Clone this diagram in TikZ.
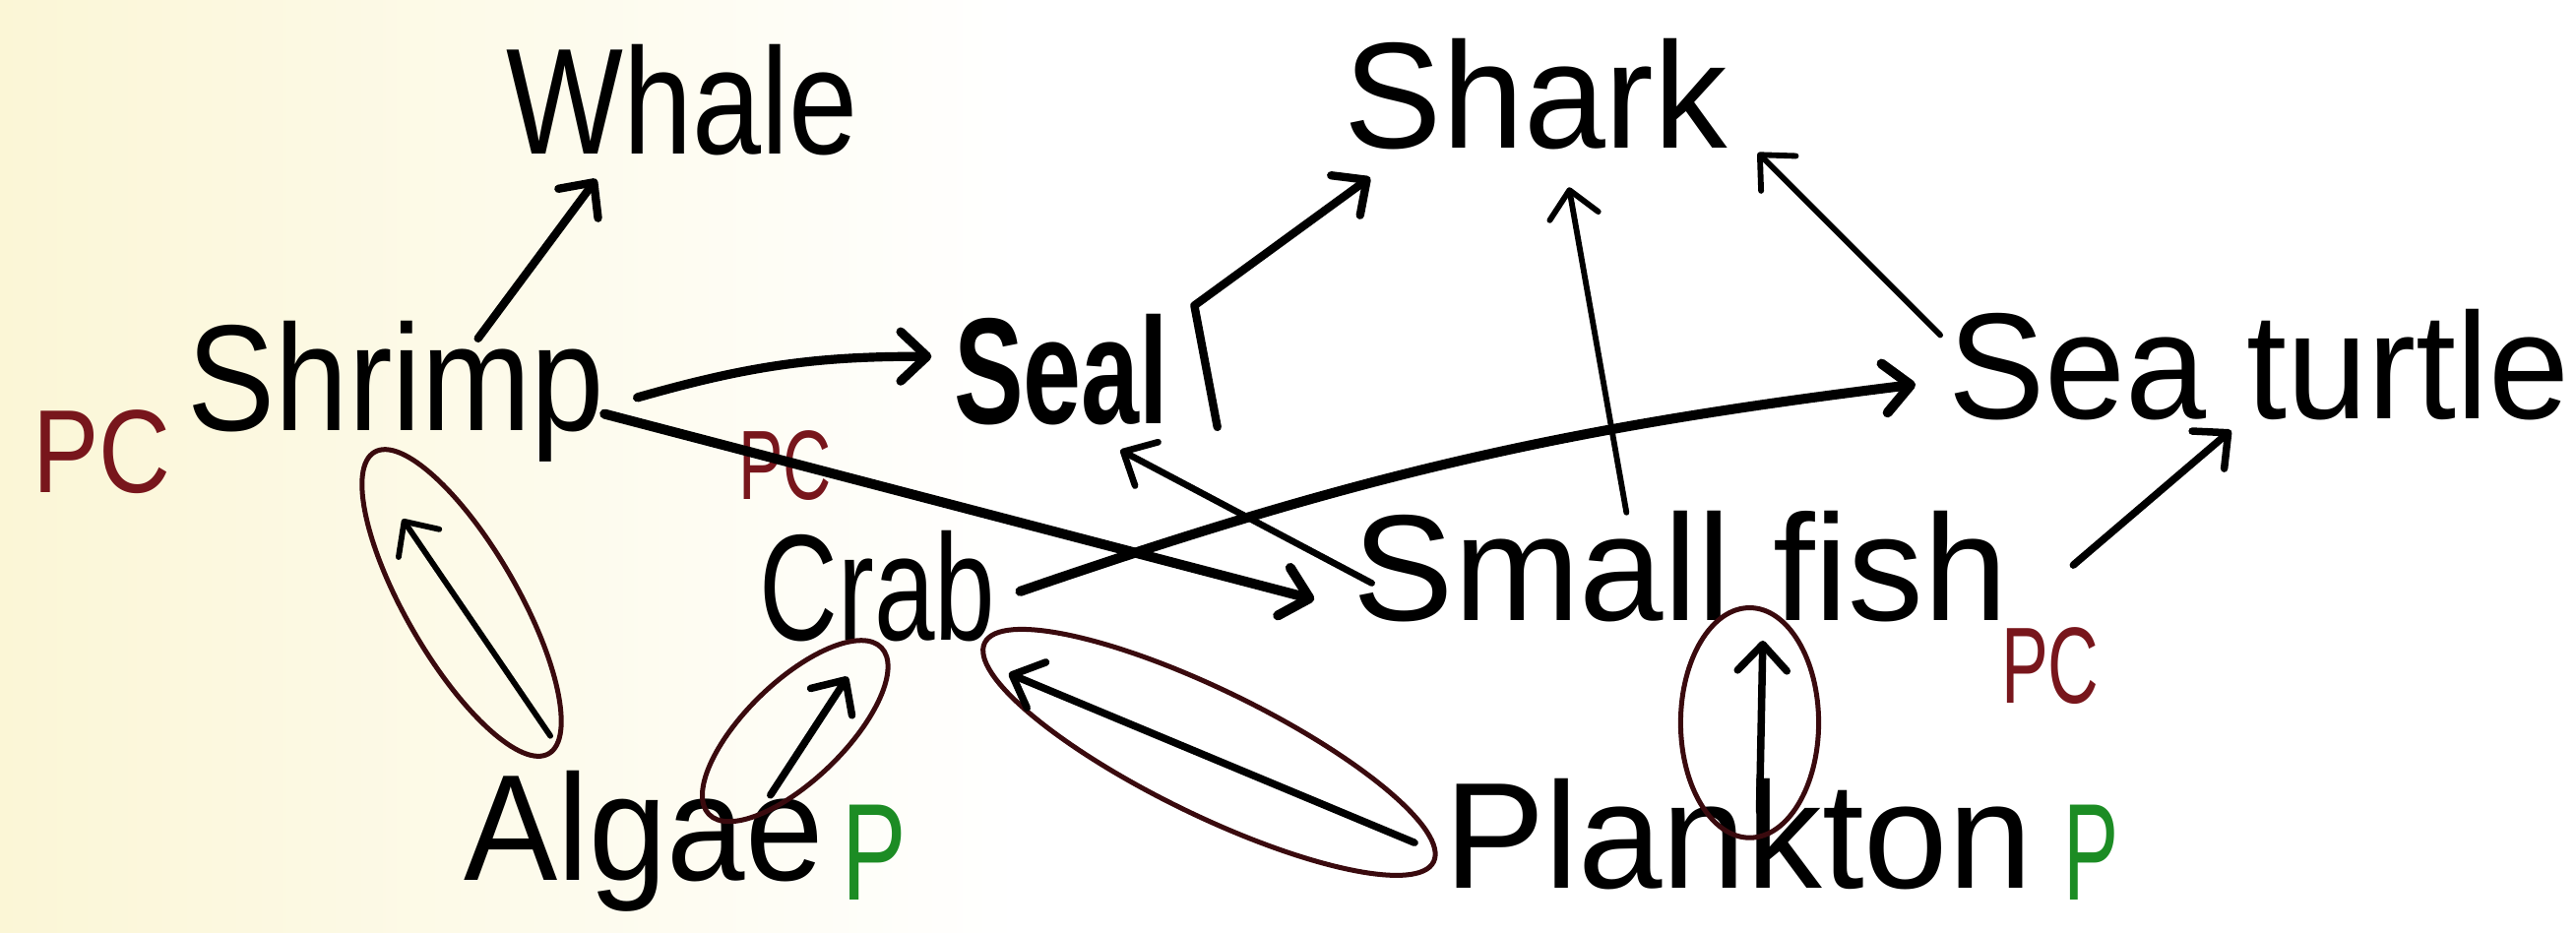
\documentclass[tikz,border=0pt]{standalone}
\usepackage{fontspec}
\setmainfont{Liberation Sans}
\usepackage{graphicx}
\usetikzlibrary{arrows.meta,calc}
\definecolor{cream}{RGB}{251,246,214}
\definecolor{pcred}{RGB}{120,22,28}
\definecolor{pgreen}{RGB}{28,140,36}
\definecolor{ellc}{RGB}{58,10,14}
\begin{document}
\begin{tikzpicture}[x=1pt,y=-1pt,
  lbl/.style={inner sep=0pt, anchor=base, font=\fontsize{92}{94}\selectfont},
  pcl/.style={inner sep=0pt, anchor=base, text=pcred, font=\fontsize{70}{72}\selectfont},
  pl/.style={inner sep=0pt, anchor=base, text=pgreen, font=\fontsize{84}{86}\selectfont},
  arr/.style={line width=5pt, line cap=round, line join=round, -{Straight Barb[length=16pt,width=30pt,round]}},
  ell/.style={draw=ellc, line width=3pt}]
\fill[white] (0,0) rectangle (1568,568);
\shade[left color=cream, right color=white] (0,0) rectangle (620,568);
\useasboundingbox (0,0) rectangle (1568,568);

% labels
\node[lbl] (whale) at (415,94) {\scalebox{0.82}[1]{Whale}};
\node[lbl] (shark) at (935,90) {\scalebox{0.97}[1]{Shark}};
\node[lbl] (shrimp) at (241,262) {\scalebox{0.87}[1]{Shrimp}};
\node[pcl, font=\fontsize{72}{74}\selectfont] (pcshrimp) at (62,300) {\scalebox{0.84}[1]{PC}};
\node[lbl, font=\fontsize{92}{94}\selectfont\bfseries] (seal) at (646,258) {\scalebox{0.69}[1]{Seal}};
\node[lbl] (turtle) at (1375,255) {\scalebox{0.96}[1]{Sea turtle}};
\node[pcl, font=\fontsize{60}{62}\selectfont] (pccrab) at (478,304) {\scalebox{0.68}[1]{PC}};
\node[lbl] (crab) at (534,390) {\scalebox{0.72}[1]{Crab}};
\node[lbl] (fish) at (1023,378) {Small fish};
\node[pcl, font=\fontsize{66}{68}\selectfont] (pcfish) at (1248,428) {\scalebox{0.65}[1]{PC}};
\node[lbl] (algae) at (392,536) {\scalebox{0.93}[1]{Algae}};
\node[pl] (palgae) at (532,548) {\scalebox{0.7}[1]{P}};
\node[lbl] (plankton) at (1058,541) {Plankton};
\node[pl] (pplankton) at (1273,548) {\scalebox{0.6}[1]{P}};

% ellipses round the producer links
\draw[ell, rotate around={-60:(281,367)}] (281,367) ellipse [x radius=106, y radius=34];
\draw[ell, rotate around={44:(484,445)}] (484,445) ellipse [x radius=73, y radius=30];
\draw[ell, rotate around={-26:(736,458)}] (736,458) ellipse [x radius=152, y radius=38];
\draw[ell] (1065,440) ellipse [x radius=42, y radius=70];

% feeding arrows
\draw[arr] ($(shrimp.base)+(50,-56)$) -- ($(whale.base)+(-52,15)$);
\draw[arr, line width=5.5pt] ($(shrimp.base)+(147,-20)$) to[bend left=8] ($(seal.base)+(-79,-41)$);
\draw[arr, line width=6pt] ($(shrimp.base)+(127,-10)$) -- ($(fish.base)+(-223,-13)$);
\draw[arr] ($(seal.base)+(95,2)$) -- ($(seal.base)+(81,-72)$) -- ($(shark.base)+(-101,18)$);
\draw[arr, line width=3.5pt] ($(fish.base)+(-33,-66)$) -- ($(shark.base)+(20,24)$);
\draw[arr, line width=3.5pt] ($(turtle.base)+(-194,-51)$) -- ($(shark.base)+(135,3)$);
\draw[arr, line width=6pt] ($(crab.base)+(87,-30)$) to[bend left=6] ($(turtle.base)+(-209,-21)$);
\draw[arr, line width=4pt] ($(fish.base)+(-188,-23)$) -- ($(seal.base)+(36,16)$);
\draw[arr, line width=4.5pt] ($(fish.base)+(239,-34)$) -- ($(turtle.base)+(-17,7)$);
\draw[arr, line width=3.5pt] ($(algae.base)+(-57,-88)$) -- ($(shrimp.base)+(4,54)$);
\draw[arr, line width=4.5pt] ($(algae.base)+(77,-52)$) -- ($(crab.base)+(-18,22)$);
\draw[arr, line width=4.5pt] ($(plankton.base)+(-197,-28)$) -- ($(crab.base)+(80,20)$);
\draw[arr, line width=4.5pt] ($(plankton.base)+(13,-47)$) -- ($(fish.base)+(50,12)$);
\end{tikzpicture}
\end{document}
